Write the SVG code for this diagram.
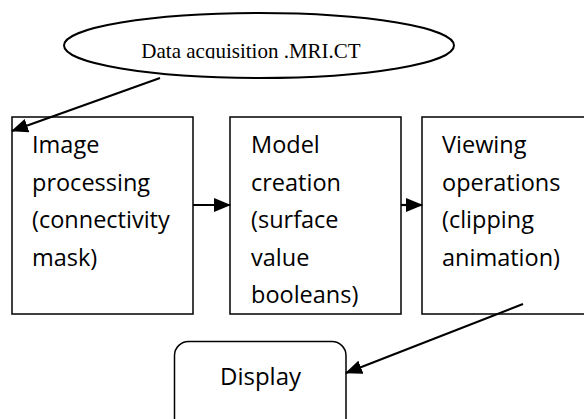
<svg xmlns="http://www.w3.org/2000/svg" width="584" height="419" viewBox="0 0 584 419">
  <style>
    .box { fill: #fff; stroke: #000; stroke-width: 1.5; }
    .oval { fill: #fff; stroke: #000; stroke-width: 2; }
    .lbl { font-family: "Open Sans", "Liberation Sans", sans-serif; font-size: 23.5px; fill: #000; }
    .serif { font-family: "Liberation Serif", "Times New Roman", serif; font-size: 21px; fill: #000; }
    .conn { stroke: #000; stroke-width: 2.2; fill: none; marker-end: url(#arrow); }
  </style>
  <defs>
    <marker id="arrow" viewBox="0 0 17 14" refX="16" refY="7" markerWidth="17" markerHeight="14" markerUnits="userSpaceOnUse" orient="auto">
      <path d="M0,0 L17,7 L0,14 Z" fill="#000"/>
    </marker>
    <clipPath id="ovalTextClip">
      <rect x="60" y="20" width="400" height="38.5"/>
    </clipPath>
  </defs>

  <rect width="584" height="419" fill="#fff"/>

  <g id="acquisition">
    <ellipse class="oval" cx="259" cy="45.5" rx="195" ry="32.5"/>
    <text class="serif" x="251" y="57.5" text-anchor="middle" clip-path="url(#ovalTextClip)">Data acquisition .MRI.CT</text>
  </g>

  <g id="image-processing">
    <rect class="box" x="12" y="117" width="181" height="197"/>
    <text class="lbl" x="32">
      <tspan x="32" y="153">Image</tspan>
      <tspan x="32" y="190.5">processing</tspan>
      <tspan x="32" y="228">(connectivity</tspan>
      <tspan x="32" y="265.5">mask)</tspan>
    </text>
  </g>

  <g id="model-creation">
    <rect class="box" x="230" y="117" width="171" height="197"/>
    <text class="lbl" x="251">
      <tspan x="251" y="153">Model</tspan>
      <tspan x="251" y="190.5">creation</tspan>
      <tspan x="251" y="228">(surface</tspan>
      <tspan x="251" y="265.5">value</tspan>
      <tspan x="251" y="303">booleans)</tspan>
    </text>
  </g>

  <g id="viewing-operations">
    <rect class="box" x="422" y="117" width="200" height="197"/>
    <text class="lbl" x="442">
      <tspan x="442" y="153">Viewing</tspan>
      <tspan x="442" y="190.5">operations</tspan>
      <tspan x="442" y="228">(clipping</tspan>
      <tspan x="442" y="265.5">animation)</tspan>
    </text>
  </g>

  <g id="display">
    <rect class="box" x="174.5" y="341.5" width="171.5" height="110" rx="14" ry="14"/>
    <text class="lbl" x="260.5" y="385" text-anchor="middle" style="font-size:24px">Display</text>
  </g>

  <g id="connectors">
    <line class="conn" x1="160" y1="78" x2="12" y2="131"/>
    <line class="conn" x1="193" y1="205" x2="230" y2="205"/>
    <line class="conn" x1="401" y1="205" x2="422" y2="205"/>
    <line class="conn" x1="523" y1="304" x2="346" y2="373"/>
  </g>
</svg>
